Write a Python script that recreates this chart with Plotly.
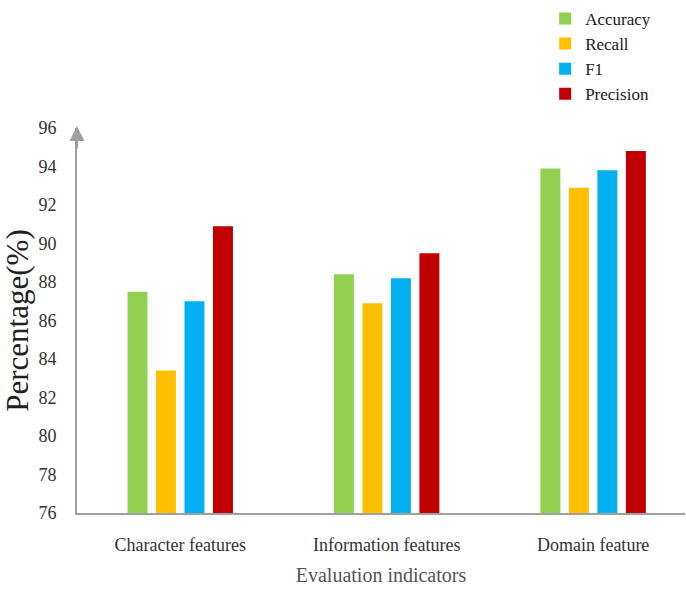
import plotly.graph_objects as go

categories = ["Character features", "Information features", "Domain feature"]
accuracy = [87.5, 88.4, 93.9]
recall = [83.4, 86.9, 92.9]
f1 = [87.0, 88.2, 93.8]
precision = [90.9, 89.5, 94.8]

series = [
    ("Accuracy", accuracy, "#92D050"),
    ("Recall", recall, "#FFC000"),
    ("F1", f1, "#00B0F0"),
    ("Precision", precision, "#C00000"),
]

serif = "Liberation Serif, Times New Roman, serif"

fig = go.Figure()
for name, vals, color in series:
    fig.add_trace(go.Bar(
        x=categories, y=vals, name=name,
        marker=dict(color=color, line=dict(width=0)),
    ))

fig.update_layout(
    width=686, height=592,
    margin=dict(l=77, r=1, t=125, b=79),
    paper_bgcolor="white", plot_bgcolor="white",
    barmode="group", bargap=0.448, bargroupgap=0.30,
    font=dict(family=serif, color="#333333"),
    showlegend=True,
    legend=dict(
        x=0.77, y=1.33, xanchor="left", yanchor="top",
        xref="paper", yref="paper",
        font=dict(family=serif, size=17, color="#222222"),
        itemwidth=30, tracegroupgap=0, bgcolor="rgba(0,0,0,0)",
    ),
    xaxis=dict(
        range=[-0.5, 2.445],
        showline=True, linecolor="#A0A0A0", linewidth=2,
        ticks="outside", ticklen=14, tickcolor="rgba(0,0,0,0)",
        showgrid=False, zeroline=False,
        tickfont=dict(family=serif, size=18, color="#333333"),
        title=dict(text="Evaluation indicators", standoff=14,
                   font=dict(family=serif, size=20, color="#555555")),
    ),
    yaxis=dict(
        range=[76, 96], dtick=2, tick0=76,
        showline=True, linecolor="#A0A0A0", linewidth=2,
        ticks="outside", ticklen=15, tickcolor="rgba(0,0,0,0)",
        showgrid=False, zeroline=False,
        tickfont=dict(family=serif, size=18, color="#333333"),
        title=dict(text="Percentage(%)", standoff=4,
                   font=dict(family=serif, size=31, color="#222222")),
    ),
)

# arrowhead at the top of the value axis
fig.add_annotation(
    x=0, y=1.005, xref="paper", yref="paper",
    ax=0, ay=24, axref="pixel", ayref="pixel",
    showarrow=True, arrowhead=2, arrowsize=1.5, arrowwidth=2,
    arrowcolor="#A0A0A0", text="", standoff=0,
)

fig.write_html("out.html")
